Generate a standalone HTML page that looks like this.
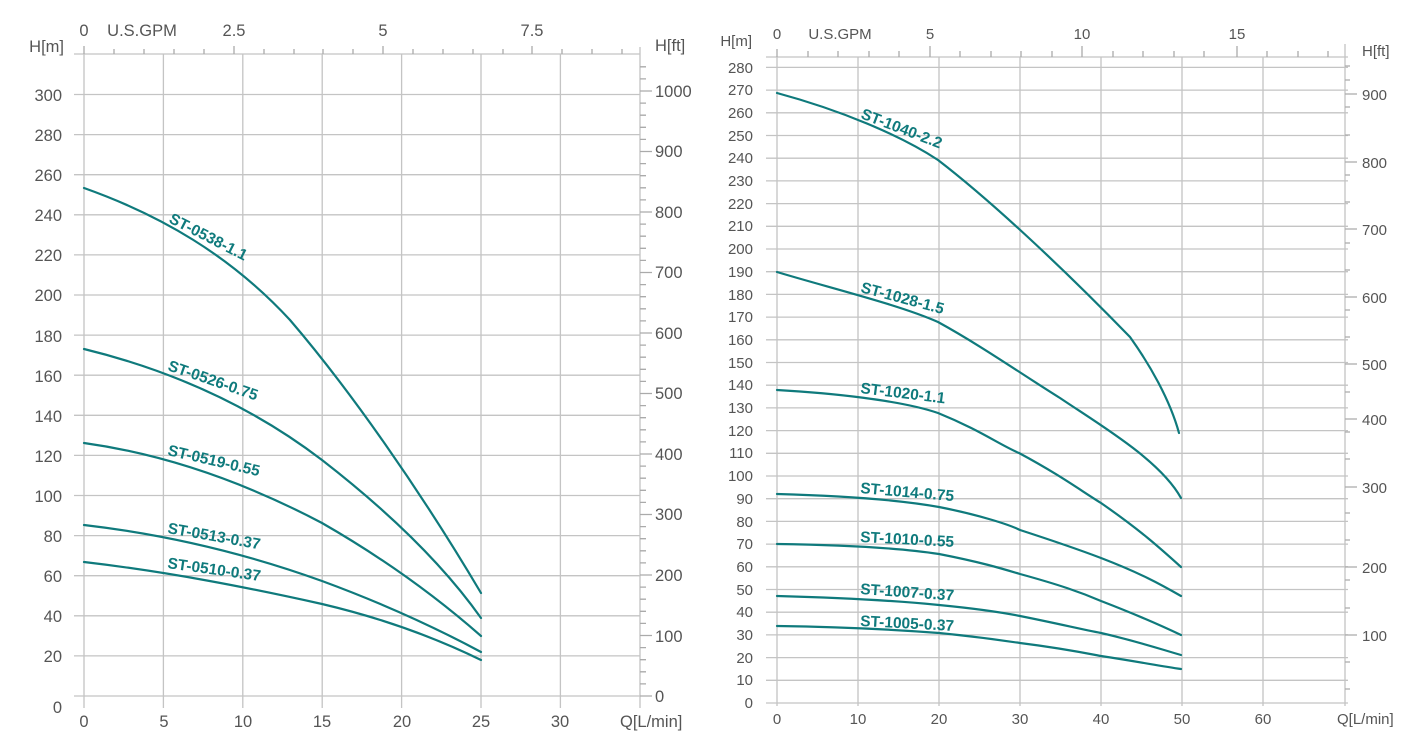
<!DOCTYPE html>
<html><head><meta charset="utf-8"><style>
body{margin:0;background:#fff;}
svg{display:block;font-family:"Liberation Sans",sans-serif;}
.g{stroke:#c4c4c4;stroke-width:1.3;fill:none}
.ax{stroke:#aaa;stroke-width:1.3;fill:none}
.t{fill:#555;font-size:16.5px}
.t2{fill:#555;font-size:15px}
.c{stroke:#0f7a7c;stroke-width:2.2;fill:none;stroke-linejoin:round;stroke-linecap:round}
.l{fill:#0f7a7c;font-size:15.5px;font-weight:bold}
</style></head><body>
<svg width="1427" height="747" viewBox="0 0 1427 747">
<!-- LEFT CHART -->
<g class="g">
<path d="M74 696H640M74 655.9H640M74 615.8H640M74 575.7H640M74 535.6H640M74 495.5H640M74 455.4H640M74 415.3H640M74 375.2H640M74 335.1H640M74 295H640M74 254.9H640M74 214.8H640M74 174.7H640M74 134.6H640M74 94.5H640M74 54H640"/>
<path d="M84 54V708M163.4 54V708M242.8 54V708M322.2 54V708M401.6 54V708M481 54V708M560.4 54V708M640 47V708"/>
</g>
<g class="ax">
<path d="M84 54V46M114 54V49M144 54V49M174 54V49M204 54V49M234 54V46M264 54V49M294 54V49M323 54V49M353 54V49M383 54V46M413 54V49M443 54V49M473 54V49M503 54V49M532 54V46M562 54V49M592 54V49M622 54V49"/>
<path d="M640 696H652M640 683.9H646M640 671.8H646M640 659.7H646M640 647.6H646M640 635.5H652M640 623.4H646M640 611.3H646M640 599.2H646M640 587.1H646M640 575H652M640 562.9H646M640 550.8H646M640 538.7H646M640 526.6H646M640 514.5H652M640 502.4H646M640 490.3H646M640 478.2H646M640 466.1H646M640 454H652M640 441.9H646M640 429.8H646M640 417.7H646M640 405.6H646M640 393.5H652M640 381.4H646M640 369.3H646M640 357.2H646M640 345.1H646M640 333H652M640 320.9H646M640 308.8H646M640 296.7H646M640 284.6H646M640 272.5H652M640 260.4H646M640 248.3H646M640 236.2H646M640 224.1H646M640 212H652M640 199.9H646M640 187.8H646M640 175.7H646M640 163.6H646M640 151.5H652M640 139.4H646M640 127.3H646M640 115.2H646M640 103.1H646M640 91H652M640 78.9H646M640 66.8H646"/>
</g>
<g class="t" text-anchor="end">
<text x="62" y="713">0</text><text x="62" y="662">20</text><text x="62" y="622">40</text><text x="62" y="582">60</text><text x="62" y="542">80</text><text x="62" y="502">100</text><text x="62" y="462">120</text><text x="62" y="422">140</text><text x="62" y="382">160</text><text x="62" y="342">180</text><text x="62" y="301">200</text><text x="62" y="261">220</text><text x="62" y="221">240</text><text x="62" y="181">260</text><text x="62" y="141">280</text><text x="62" y="101">300</text>
<text x="64" y="52">H[m]</text>
</g>
<g class="t">
<text x="655" y="702">0</text><text x="655" y="642">100</text><text x="655" y="581">200</text><text x="655" y="520">300</text><text x="655" y="460">400</text><text x="655" y="399">500</text><text x="655" y="339">600</text><text x="655" y="278">700</text><text x="655" y="218">800</text><text x="655" y="157">900</text><text x="655" y="97">1000</text>
<text x="655" y="51">H[ft]</text>
<text x="620" y="727">Q[L/min]</text>
</g>
<g class="t" text-anchor="middle">
<text x="84" y="36">0</text><text x="142" y="36">U.S.GPM</text><text x="234" y="36">2.5</text><text x="383" y="36">5</text><text x="532" y="36">7.5</text>
<text x="84" y="727">0</text><text x="164" y="727">5</text><text x="243" y="727">10</text><text x="322" y="727">15</text><text x="402" y="727">20</text><text x="481" y="727">25</text><text x="560" y="727">30</text>
</g>
<g class="c">
<path d="M84 188C160 215 230 255 290 320C350 390 420 490 481 593"/>
<path d="M84 349C170 370 250 405 322 460C380 505 440 560 481 618"/>
<path d="M84 443C170 455 250 485 322 523C390 562 440 600 481 636"/>
<path d="M84 525C170 535 250 555 322 581C390 606 440 630 481 652"/>
<path d="M84 562C170 572 250 588 322 604C390 620 440 640 481 660"/>
</g>
<g class="l">
<text transform="translate(168,222) rotate(27)">ST-0538-1.1</text>
<text transform="translate(167,370) rotate(19)">ST-0526-0.75</text>
<text transform="translate(167,455) rotate(13)">ST-0519-0.55</text>
<text transform="translate(167,533) rotate(10)">ST-0513-0.37</text>
<text transform="translate(167,568) rotate(8)">ST-0510-0.37</text>
</g>

<!-- RIGHT CHART -->
<g class="g">
<path d="M766 703H1348M766 680.3H1348M766 657.6H1348M766 634.9H1348M766 612.2H1348M766 589.5H1348M766 566.8H1348M766 544.1H1348M766 521.4H1348M766 498.7H1348M766 476H1348M766 453.3H1348M766 430.6H1348M766 407.9H1348M766 385.2H1348M766 362.5H1348M766 339.8H1348M766 317.1H1348M766 294.4H1348M766 271.7H1348M766 249H1348M766 226.3H1348M766 203.6H1348M766 180.9H1348M766 158.2H1348M766 135.5H1348M766 112.8H1348M766 90.1H1348M766 67.4H1348M766 57H1348"/>
<path d="M777 57V706M858 57V706M939 57V706M1020 57V706M1101 57V706M1182 57V706M1263 57V706M1345 44V706"/>
</g>
<g class="ax">
<path d="M777 57V49M808 57V51M838 57V51M869 57V51M899 57V51M930 57V46M960 57V51M991 57V51M1021 57V51M1052 57V51M1082 57V46M1113 57V51M1143 57V51M1174 57V51M1204 57V51M1237 57V46M1267 57V51M1298 57V51M1328 57V51"/>
<path d="M1345 689H1350M1345 662H1350M1345 635H1357M1345 608H1350M1345 580H1350M1345 567H1357M1345 540H1350M1345 513H1350M1345 487H1357M1345 459H1350M1345 432H1350M1345 419H1357M1345 392H1350M1345 364H1357M1345 337H1350M1345 310H1350M1345 297H1357M1345 270H1350M1345 243H1350M1345 229H1357M1345 202H1350M1345 175H1350M1345 162H1357M1345 135H1350M1345 107H1350M1345 94H1357M1345 80H1350M1345 66H1350"/>
</g>
<g class="t2" text-anchor="end">
<text x="753" y="708">0</text><text x="753" y="685">10</text><text x="753" y="663">20</text><text x="753" y="640">30</text><text x="753" y="617">40</text><text x="753" y="595">50</text><text x="753" y="572">60</text><text x="753" y="549">70</text><text x="753" y="527">80</text><text x="753" y="504">90</text><text x="753" y="481">100</text><text x="753" y="458">110</text><text x="753" y="436">120</text><text x="753" y="413">130</text><text x="753" y="390">140</text><text x="753" y="368">150</text><text x="753" y="345">160</text><text x="753" y="322">170</text><text x="753" y="300">180</text><text x="753" y="277">190</text><text x="753" y="254">200</text><text x="753" y="231">210</text><text x="753" y="209">220</text><text x="753" y="186">230</text><text x="753" y="163">240</text><text x="753" y="141">250</text><text x="753" y="118">260</text><text x="753" y="95">270</text><text x="753" y="73">280</text>
<text x="752" y="46">H[m]</text>
</g>
<g class="t2">
<text x="1362" y="641">100</text><text x="1362" y="573">200</text><text x="1362" y="493">300</text><text x="1362" y="425">400</text><text x="1362" y="370">500</text><text x="1362" y="303">600</text><text x="1362" y="235">700</text><text x="1362" y="168">800</text><text x="1362" y="100">900</text>
<text x="1362" y="56">H[ft]</text>
<text x="1337" y="724">Q[L/min]</text>
</g>
<g class="t2" text-anchor="middle">
<text x="777" y="39">0</text><text x="840" y="39">U.S.GPM</text><text x="930" y="39">5</text><text x="1082" y="39">10</text><text x="1237" y="39">15</text>
<text x="777" y="724">0</text><text x="858" y="724">10</text><text x="939" y="724">20</text><text x="1020" y="724">30</text><text x="1101" y="724">40</text><text x="1182" y="724">50</text><text x="1263" y="724">60</text>
</g>
<g class="c">
<path d="M777 93C840 110 900 135 938 160C990 200 1060 265 1130 337C1150 365 1170 400 1179 433"/>
<path d="M777 272C830 288 900 305 938 322C980 345 1020 373 1060 398C1100 425 1160 460 1181 498"/>
<path d="M777 390C830 393 900 400 938 413C980 430 1000 445 1019 453C1060 475 1080 490 1101 503C1140 530 1160 548 1181 567"/>
<path d="M777 494C850 496 900 500 939 507C980 515 1010 525 1020 530C1060 543 1080 550 1101 558C1140 573 1160 584 1181 596"/>
<path d="M777 544C850 545 900 548 939 554C980 562 1000 568 1020 574C1060 585 1080 592 1101 601C1140 616 1160 625 1181 635"/>
<path d="M777 596C850 598 900 601 939 605C980 609 1000 612 1020 616C1060 624 1080 629 1101 633C1140 642 1160 649 1181 655"/>
<path d="M777 626C850 627 900 630 939 633C980 637 1000 640 1020 643C1060 648 1080 652 1101 656C1140 662 1160 666 1181 669"/>
</g>
<g class="l">
<text transform="translate(860,118) rotate(21)">ST-1040-2.2</text>
<text transform="translate(860,292) rotate(15)">ST-1028-1.5</text>
<text transform="translate(860,393) rotate(7)">ST-1020-1.1</text>
<text transform="translate(860,493) rotate(5)">ST-1014-0.75</text>
<text transform="translate(860,542) rotate(3)">ST-1010-0.55</text>
<text transform="translate(860,594) rotate(4)">ST-1007-0.37</text>
<text transform="translate(860,626) rotate(3)">ST-1005-0.37</text>
</g>
</svg>
</body></html>
